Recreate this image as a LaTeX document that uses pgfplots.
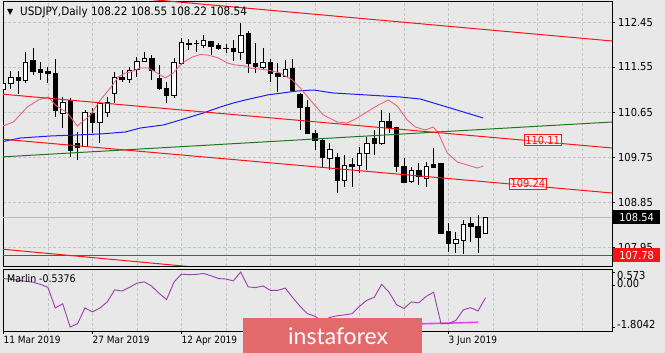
\documentclass[border=0pt]{standalone}
\usepackage{pgfplots}
\pgfplotsset{compat=1.18}
\usepackage{pgfplotstable}
\usepackage{fontspec}
\setmainfont{DejaVu Sans Condensed}
\newfontfamily\symfont{DejaVu Sans}
\newfontfamily\logofont{Lato}
\definecolor{bg}{RGB}{232,232,232}
\definecolor{gridc}{RGB}{196,196,196}
\definecolor{ma1}{RGB}{232,100,125}
\definecolor{ma2}{RGB}{30,30,250}
\definecolor{tl}{RGB}{30,120,30}
\definecolor{chan}{RGB}{250,20,20}
\definecolor{marlin}{RGB}{155,60,175}
\definecolor{divl}{RGB}{238,60,238}
\definecolor{logoc}{RGB}{226,106,106}

\pgfplotstableread{
i O H L C
0 111.11 111.29 111.03 111.23
1 111.23 111.47 111.11 111.35
2 111.35 111.47 111.01 111.29
3 111.29 111.85 111.23 111.65
4 111.69 111.93 111.39 111.47
5 111.51 111.65 111.29 111.45
6 111.47 111.55 111.23 111.43
7 111.43 111.71 110.55 110.69
8 110.63 110.95 110.33 110.85
9 110.89 110.93 109.75 109.89
10 110.03 110.25 109.69 109.95
11 109.97 110.69 109.95 110.65
12 110.63 110.73 110.23 110.45
13 110.45 110.83 110.03 110.83
14 110.65 110.95 110.55 110.85
15 111.03 111.45 110.83 111.35
16 111.35 111.49 111.25 111.31
17 111.31 111.55 111.23 111.49
18 111.51 111.75 111.35 111.67
19 111.67 111.85 111.65 111.73
20 111.73 111.79 111.29 111.49
21 111.33 111.59 111.09 111.13
22 111.13 111.25 110.83 110.99
23 110.99 111.73 110.93 111.65
24 111.63 112.13 111.59 112.05
25 112.03 112.11 111.89 112.01
26 112.03 112.09 111.85 112.02
27 111.99 112.19 111.93 112.08
28 112.06 112.06 111.79 111.97
29 111.99 112.03 111.89 111.93
30 111.93 112.01 111.83 111.92
31 111.93 112.09 111.67 111.87
32 111.85 112.43 111.69 112.19
33 112.23 112.27 111.43 111.63
34 111.63 112.03 111.43 111.57
35 111.55 111.93 111.49 111.65
36 111.65 111.71 111.25 111.43
37 111.43 111.63 111.05 111.37
38 111.37 111.69 111.35 111.51
39 111.53 111.71 111.05 111.09
40 111.01 111.03 110.29 110.75
41 110.75 110.89 110.23 110.23
42 110.23 110.29 109.89 110.09
43 110.09 110.13 109.53 109.75
44 109.73 110.03 109.49 109.91
45 109.75 109.83 109.03 109.29
46 109.29 109.79 109.15 109.59
47 109.61 109.73 109.15 109.57
48 109.59 109.95 109.43 109.83
49 109.83 110.15 109.49 110.03
50 110.13 110.29 109.79 110.03
51 110.03 110.69 109.99 110.47
52 110.47 110.63 110.23 110.35
53 110.35 110.35 109.45 109.57
54 109.57 109.73 109.23 109.25
55 109.27 109.55 109.23 109.49
56 109.49 109.63 109.19 109.37
57 109.33 109.65 109.15 109.57
58 109.61 109.93 109.55 109.55
59 109.63 109.63 108.23 108.23
60 108.27 108.43 107.85 108.03
61 108.03 108.25 107.83 108.11
62 108.09 108.49 107.81 108.41
63 108.43 108.55 108.05 108.37
64 108.37 108.59 107.83 108.15
65 108.22 108.55 108.22 108.54
}\candles

\pgfplotstableread{
i v
0 0.29
1 0.26
2 0.22
3 0.17
4 0.13
5 0.04
6 -0.09
7 -0.98
8 -0.80
9 -1.8042
10 -1.66
11 -0.98
12 -1.15
13 -0.99
14 -0.72
15 -0.20
16 -0.25
17 -0.09
18 0.09
19 0.15
20 -0.04
21 -0.35
22 -0.62
23 0.14
24 0.48
25 0.46
26 0.47
27 0.51
28 0.41
29 0.29
30 0.27
31 0.19
32 0.573
33 -0.07
34 -0.10
35 -0.03
36 -0.22
37 -0.22
38 -0.12
39 -0.53
40 -0.91
41 -1.23
42 -1.34
43 -1.55
44 -1.39
45 -1.32
46 -1.28
47 -1.23
48 -0.91
49 -0.65
50 -0.52
51 0.04
52 -0.30
53 -0.84
54 -1.00
55 -0.72
56 -0.76
57 -0.48
58 -0.30
59 -1.66
60 -1.66
61 -1.52
62 -1.06
63 -0.97
64 -1.11
65 -0.5376
}\marlin

\begin{document}
\begin{tikzpicture}[font=\fontsize{11bp}{13bp}\selectfont]
\fill[bg] (0,0) rectangle (665bp,-353bp);
\begin{axis}[
  at={(3bp,-1bp)}, anchor=north west,
  width=609bp, height=265bp, scale only axis,
  xmin=-0.05, xmax=82.05, ymin=107.57, ymax=112.87,
  axis line style={black, line width=0.8bp},
  tick align=outside,
  xtick={0,12,...,72}, minor xtick={6,18,...,78},
  xticklabels={}, xtick style={draw=none},
  xmajorgrids, xminorgrids, ymajorgrids,
  grid style={gridc, dash pattern=on 3bp off 2bp, line width=0.6bp},
  ytick={107.95,108.85,109.75,110.65,111.55,112.45},
  yticklabels={107.95,108.85,109.75,110.65,111.55,112.45},
  ytick pos=right, yticklabel pos=right,
  major tick length=3bp, minor tick length=0pt,
  ytick style={black, line width=0.8bp},
  yticklabel style={anchor=west, inner sep=0pt, xshift=3bp},
  clip mode=individual,
]
\addplot[gray!55, line width=0.8bp, forget plot] coordinates {(-1,108.54) (83,108.54)};
\pgfplotsforeachungrouped \k in {0,...,65}{%
  \pgfplotstablegetelem{\k}{O}\of\candles \let\cO\pgfplotsretval
  \pgfplotstablegetelem{\k}{H}\of\candles \let\cH\pgfplotsretval
  \pgfplotstablegetelem{\k}{L}\of\candles \let\cL\pgfplotsretval
  \pgfplotstablegetelem{\k}{C}\of\candles \let\cC\pgfplotsretval
  \pgfmathsetmacro\xa{\k-0.3}\pgfmathsetmacro\xb{\k+0.3}%
  \ifdim\cC pt>\cO pt \def\fc{white}\else\def\fc{black}\fi
  \edef\tmp{\noexpand\addplot[black, line width=0.8bp, forget plot] coordinates {(\k,\cL) (\k,\cH)};
    \noexpand\addplot[draw=black, line width=0.8bp, fill=\fc, forget plot] coordinates {(\xa,\cO) (\xb,\cO) (\xb,\cC) (\xa,\cC)} --cycle;}%
  \tmp
}
% moving averages
\addplot[ma2, line width=1bp] coordinates {(-0.4,110.05) (2.29,110.13) (6.33,110.17) (13.07,110.21) (16.44,110.25) (18.46,110.33) (21.56,110.39) (23.85,110.49) (26.95,110.63) (29.25,110.75) (31,110.83) (32.61,110.89) (35.58,110.99) (39.62,111.07) (41.78,111.09) (44.47,111.03) (49.06,110.99) (53.5,110.95) (56.2,110.91) (57.55,110.85) (60.24,110.73) (64.69,110.53)};
\addplot[ma1, line width=0.9bp] coordinates {(-0.4,110.35) (1.35,110.45) (3.23,110.75) (4.72,110.89) (6.06,110.95) (7.0,110.79) (8.63,110.63) (9.97,110.37) (11.73,110.59) (13.07,110.89) (14.42,111.13) (15.5,111.35) (16.44,111.43) (17.1,111.45) (18.46,111.53) (19.54,111.53) (20.75,111.43) (21.83,111.33) (22.9,111.43) (24.12,111.63) (25.47,111.75) (26.55,111.80) (27.49,111.79) (28.84,111.74) (30.19,111.63) (31.27,111.59) (32.6,111.57) (33.29,111.53) (35.58,111.49) (37.33,111.43) (38.95,111.29) (40.03,111.13) (41.37,110.89) (43.13,110.59) (45.01,110.45) (46.36,110.43) (47.71,110.53) (49.87,110.73) (50.81,110.81) (51.89,110.89) (53.1,110.77) (54.45,110.49) (55.53,110.35) (56.87,110.29) (57.95,110.35) (58.63,110.23) (59.84,109.83) (61.19,109.65) (62.53,109.59) (63.88,109.53) (64.69,109.57)};
% trend lines
\addplot[tl, line width=1bp] coordinates {(-0.4,109.75) (82.08,110.45)};
\addplot[chan, line width=1bp] coordinates {(-0.4,113.17) (82.08,112.07)};
\addplot[chan, line width=1bp] coordinates {(-0.4,111.01) (82.08,109.93)};
\addplot[chan, line width=1bp] coordinates {(-0.4,110.11) (82.08,109.03)};
\addplot[chan, line width=1bp] coordinates {(-0.4,107.91) (82.08,106.77)};
\addplot[chan, line width=1bp] coordinates {(-1,107.78) (83,107.78)};
% labels
\node[draw=chan, fill=white, fill opacity=0.35, text opacity=1, text=chan, inner sep=1.5bp] at (axis cs:72.7,110.09) {110.11};
\node[draw=chan, fill=white, fill opacity=0.35, text opacity=1, text=chan, inner sep=1.5bp] at (axis cs:70.7,109.22) {109.24};
\node[fill=black, text=white, anchor=west, minimum width=47bp, minimum height=14bp, inner sep=0pt, xshift=1bp] at (axis cs:82.05,108.54) {108.54};
\node[fill=chan, text=white, anchor=west, minimum width=47bp, minimum height=14bp, inner sep=0pt, xshift=1bp] at (axis cs:82.05,107.78) {107.78};
\end{axis}

\begin{axis}[
  at={(3bp,-269bp)}, anchor=north west,
  width=609bp, height=62bp, scale only axis,
  xmin=-0.05, xmax=82.05, ymin=-1.977, ymax=0.703,
  axis line style={black, line width=0.8bp},
  tick align=outside,
  xtick={0,12,...,60}, minor xtick={6,18,30,42,54,66,72,78},
  xticklabels={11 Mar 2019,27 Mar 2019,12 Apr 2019,,,3 Jun 2019},
  xtick pos=left,
  xticklabel style={anchor=north west, inner sep=0pt, yshift=-2bp, font=\fontsize{10bp}{12bp}\selectfont},
  xmajorgrids, xminorgrids,
  grid style={gridc, dash pattern=on 3bp off 2bp, line width=0.6bp},
  ytick={-1.8042,0,0.573}, yticklabels={}, ytick pos=right,
  major tick length=3bp, minor tick length=0pt,
  tick style={black, line width=0.8bp},
  clip mode=individual,
]
\addplot[divl, line width=1.6bp] coordinates {(44,-1.77) (64,-1.60)};
\addplot[marlin, line width=0.9bp] table[x=i, y=v] {\marlin};
\node[anchor=west, inner sep=0pt, xshift=4bp, yshift=-10bp, font=\fontsize{10.5bp}{12bp}\selectfont] at (rel axis cs:0,1) {Marlin -0.5376};
\node[anchor=west, inner sep=0pt, xshift=5bp, yshift=-3.5bp] at (axis cs:82.05,0.573) {0.573};
\node[anchor=west, inner sep=0pt, xshift=5bp, yshift=2bp] at (axis cs:82.05,0) {0.00};
\node[anchor=west, inner sep=0pt, xshift=5bp, yshift=3bp] at (axis cs:82.05,-1.8042) {-1.8042};
\end{axis}

\node[anchor=west, inner sep=0pt] at (7bp,-12.5bp) {\symfont\fontsize{8bp}{9bp}\selectfont ▼};
\node[anchor=west, inner sep=0pt] at (20bp,-12.5bp) {\fontsize{11.6bp}{13bp}\selectfont USDJPY,Daily 108.22 108.55 108.22 108.54};

\fill[logoc] (243bp,-318bp) rectangle (422bp,-353bp);
\node[anchor=west, inner sep=0pt, text=white] at (288bp,-336bp) {\logofont\fontsize{23bp}{25bp}\selectfont instaforex};
\pgfresetboundingbox
\path[use as bounding box] (0,0) rectangle (665bp,-353bp);
\end{tikzpicture}
\end{document}
